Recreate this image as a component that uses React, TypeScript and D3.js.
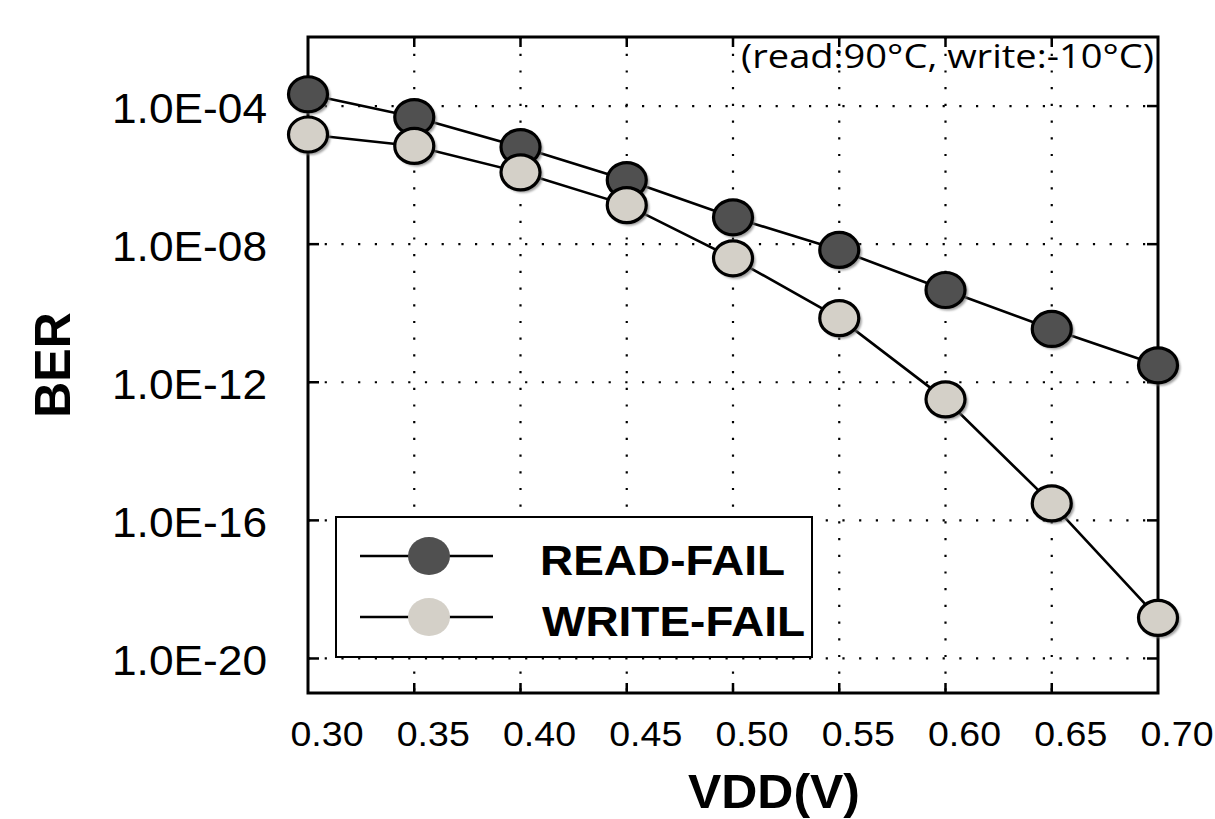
import React from "react";
import * as d3 from "d3";

const vdd = [0.3, 0.35, 0.4, 0.45, 0.5, 0.55, 0.6, 0.65, 0.7];
const readFail = [2.2e-4, 4.8e-5, 6.5e-6, 7.2e-7, 6.0e-8, 6.8e-9, 4.7e-10, 3.5e-11, 3.1e-12];
const writeFail = [1.5e-5, 7.0e-6, 1.2e-6, 1.35e-7, 3.9e-9, 7.2e-11, 3.2e-13, 3.1e-16, 1.5e-19];
const xTicks = [0.3, 0.35, 0.4, 0.45, 0.5, 0.55, 0.6, 0.65, 0.7];
const yTicks = [1e-4, 1e-8, 1e-12, 1e-16, 1e-20];
const yTickLabels = ["1.0E-04", "1.0E-08", "1.0E-12", "1.0E-16", "1.0E-20"];
const seriesNames = ["READ-FAIL", "WRITE-FAIL"];
const seriesColors = ["#505050", "#d4d0c8"];

const W = 1215;
const H = 819;
const L = 308, R = 1158, T = 37, B = 693;

export default function App() {
  const x = d3.scaleLinear().domain([0.3, 0.7]).range([L, R]);
  const y = d3.scaleLog().domain([1e-21, 1e-2]).range([B, T]);
  const line = d3
    .line<[number, number]>()
    .x((d) => x(d[0]))
    .y((d) => y(d[1]));
  const series = [readFail, writeFail];
  const font = "'Liberation Sans', Arial, sans-serif";

  return (
    <svg
      width={W}
      height={H}
      style={{ position: "absolute", left: 0, top: 0, display: "block", background: "#fff" }}
    >
      <defs>
        <filter id="sh" x="-30%" y="-30%" width="160%" height="160%">
          <feGaussianBlur stdDeviation="1.2" />
        </filter>
        <clipPath id="clipPlot">
          <rect x={L} y={T} width={R - L} height={B - T} />
        </clipPath>
      </defs>
      <rect x={0} y={0} width={W} height={H} fill="#fff" />
      {/* grid */}
      <g stroke="#000" strokeWidth={2.2} strokeDasharray="2.2 14.5" fill="none">
        {xTicks.slice(1, -1).map((t) => (
          <line key={"gx" + t} x1={x(t)} x2={x(t)} y1={T} y2={B} />
        ))}
        {yTicks.map((t) => (
          <line key={"gy" + t} x1={L} x2={R} y1={y(t)} y2={y(t)} strokeDasharray="2.2 14.5" />
        ))}
      </g>
      {/* ticks */}
      <g stroke="#000" strokeWidth={2.5}>
        {xTicks.slice(1, -1).map((t) => (
          <g key={"tx" + t}>
            <line x1={x(t)} x2={x(t)} y1={B} y2={B - 10} />
            <line x1={x(t)} x2={x(t)} y1={T} y2={T + 10} />
          </g>
        ))}
        {yTicks.map((t) => (
          <g key={"ty" + t}>
            <line x1={L} x2={L + 11} y1={y(t)} y2={y(t)} />
            <line x1={R} x2={R - 11} y1={y(t)} y2={y(t)} />
          </g>
        ))}
      </g>
      {/* legend box */}
      <rect x={336} y={517} width={476} height={140} fill="#fff" stroke="#000" strokeWidth={2} />
      {/* frame */}
      <rect x={L} y={T} width={R - L} height={B - T} fill="none" stroke="#000" strokeWidth={3} />
      {/* annotation */}
      <text
        x={741}
        y={68}
        fontFamily="'Open Sans', 'Noto Sans', sans-serif"
        fontSize={32}
        textLength={413}
        lengthAdjust="spacingAndGlyphs"
        fill="#000"
      >
        (read:90°C, write:-10°C)
      </text>
      {/* lines */}
      {series.map((s, i) => (
        <path
          key={"l" + i}
          d={line(vdd.map((v, j) => [v, s[j]] as [number, number])) || ""}
          fill="none"
          stroke="#000"
          strokeWidth={2.6}
        />
      ))}
      {/* markers */}
      {series.map((s, i) => (
        <g key={"m" + i}>
          {vdd.map((v, j) => (
            <g key={j}>
              <ellipse cx={x(v) + 2.5} cy={y(s[j]) + 2.5} rx={20} ry={18} fill="#777" opacity={0.7} filter="url(#sh)" />
              <ellipse cx={x(v)} cy={y(s[j])} rx={19.5} ry={17.5} fill={seriesColors[i]} stroke="#000" strokeWidth={3.2} />
            </g>
          ))}
        </g>
      ))}
      {/* legend entries */}
      {seriesNames.map((n, i) => {
        const ly = 556 + i * 61;
        return (
          <g key={n}>
            <line x1={360} x2={493} y1={ly} y2={ly} stroke="#000" strokeWidth={2.6} />
            <ellipse cx={429} cy={ly} rx={21} ry={19} fill={seriesColors[i]} />
            <text
              x={i === 0 ? 540 : 542}
              y={ly + 18.5}
              fontFamily={font}
              fontWeight="bold"
              fontSize={42}
              textLength={i === 0 ? 245 : 263}
              lengthAdjust="spacingAndGlyphs"
              fill="#000"
            >
              {n}
            </text>
          </g>
        );
      })}
      {/* y tick labels */}
      {yTicks.map((t, i) => (
        <text
          key={"yl" + t}
          x={267}
          y={y(t) + 17}
          textAnchor="end"
          fontFamily={font}
          fontSize={42}
          textLength={155}
          lengthAdjust="spacingAndGlyphs"
          fill="#000"
        >
          {yTickLabels[i]}
        </text>
      ))}
      {/* x tick labels */}
      {xTicks.map((t) => (
        <text
          key={"xl" + t}
          x={x(t) + 19}
          y={746}
          textAnchor="middle"
          fontFamily={font}
          fontSize={35}
          textLength={73}
          lengthAdjust="spacingAndGlyphs"
          fill="#000"
        >
          {t.toFixed(2)}
        </text>
      ))}
      {/* axis titles */}
      <text
        x={774}
        y={808}
        textAnchor="middle"
        fontFamily={font}
        fontWeight="bold"
        fontSize={49}
        textLength={172}
        lengthAdjust="spacingAndGlyphs"
        fill="#000"
      >
        VDD(V)
      </text>
      <text
        transform={`translate(70, ${(T + B) / 2}) rotate(-90)`}
        textAnchor="middle"
        fontFamily={font}
        fontWeight="bold"
        fontSize={50}
        fill="#000"
      >
        BER
      </text>
    </svg>
  );
}
